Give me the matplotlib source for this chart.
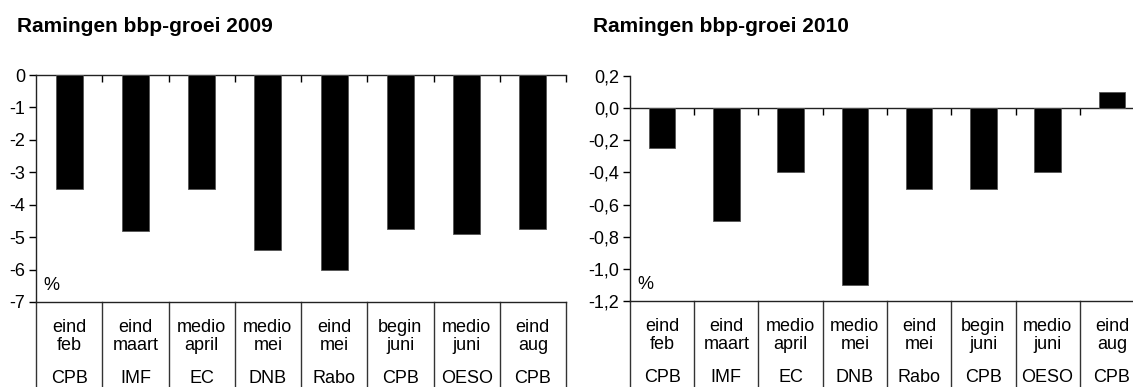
import matplotlib
matplotlib.use("Agg")
import matplotlib.pyplot as plt
from matplotlib.ticker import FixedLocator, FuncFormatter

plt.rcParams["font.family"] = ["Liberation Sans", "DejaVu Sans"]
plt.rcParams["axes.unicode_minus"] = False

periods = ["eind\nfeb", "eind\nmaart", "medio\napril", "medio\nmei",
           "eind\nmei", "begin\njuni", "medio\njuni", "eind\naug"]
sources = ["CPB", "IMF", "EC", "DNB", "Rabo", "CPB", "OESO", "CPB"]

growth_2009 = [-3.5, -4.8, -3.5, -5.4, -6.0, -4.75, -4.9, -4.75]
growth_2010 = [-0.25, -0.7, -0.4, -1.1, -0.5, -0.5, -0.4, 0.1]

ticks_2009 = [0, -1, -2, -3, -4, -5, -6, -7]
ticks_2010 = [0.2, 0.0, -0.2, -0.4, -0.6, -0.8, -1.0, -1.2]

W, H = 1133, 387
fig = plt.figure(figsize=(W / 100, H / 100), dpi=100)


def px_axes(left, top, right, bottom):
    return fig.add_axes([left / W, 1 - bottom / H, (right - left) / W, (bottom - top) / H])


def draw_panel(ax, values, yticks, fmt, title, title_x):
    n = len(values)
    xs = [i + 0.5 for i in range(n)]
    ax.bar(xs, values, width=0.41, color="black", edgecolor="#555555", linewidth=0.6, zorder=3)

    ax.set_xlim(0, n)
    ax.set_ylim(min(yticks), max(yticks))

    # y axis
    ax.yaxis.set_major_locator(FixedLocator(yticks))
    ax.yaxis.set_major_formatter(FuncFormatter(fmt))
    ax.tick_params(axis="y", direction="out", length=5, width=1, pad=3, labelsize=13, colors="black")

    # category axis at zero, ticks pointing down into the plot
    ax.spines["right"].set_visible(False)
    ax.spines["top"].set_position(("data", 0))
    ax.xaxis.set_ticks_position("top")
    ax.xaxis.set_major_locator(FixedLocator(list(range(1, n + 1))))
    ax.tick_params(axis="x", direction="in", length=5, width=1, labeltop=False, labelbottom=False)
    for side in ["left", "bottom", "top"]:
        ax.spines[side].set_linewidth(1)
        ax.spines[side].set_color("#222222")

    # label table below the plot
    trans = ax.get_xaxis_transform()
    for i in range(n + 1):
        ax.plot([i, i], [0, -1], transform=trans, color="#333333", lw=1, clip_on=False)
    for i in range(n):
        ax.annotate(periods[i], xy=(i + 0.5, 0), xycoords=trans,
                    xytext=(0, -25), textcoords="offset points",
                    ha="center", va="center", fontsize=13, linespacing=1.05)
        ax.annotate(sources[i], xy=(i + 0.5, 0), xycoords=trans,
                    xytext=(0, -55), textcoords="offset points",
                    ha="center", va="center", fontsize=13)

    ax.annotate("%", xy=(0, 0), xycoords="axes fraction", xytext=(5, 12),
                textcoords="offset points", ha="left", va="center", fontsize=13)

    fig.text(title_x / W, 1 - 32 / H, title, fontsize=15, fontweight="bold",
             ha="left", va="baseline")


ax1 = px_axes(36, 75, 566, 302)
draw_panel(ax1, growth_2009, ticks_2009, lambda v, p: f"{v:.0f}",
           "Ramingen bbp-groei 2009", 17)

ax2 = px_axes(630, 76, 1144, 301)
draw_panel(ax2, growth_2010, ticks_2010, lambda v, p: f"{v:.1f}".replace(".", ",").replace("-0,0", "0,0"),
           "Ramingen bbp-groei 2010", 593)

fig.savefig("out.png", dpi=100)
